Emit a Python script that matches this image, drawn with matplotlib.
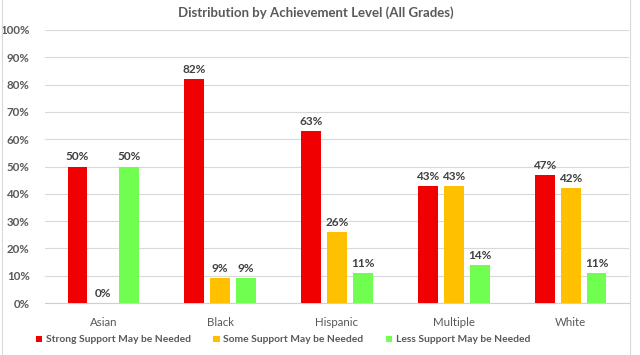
import matplotlib
matplotlib.use("Agg")
import matplotlib.pyplot as plt
import numpy as np
from matplotlib.patches import Rectangle

plt.rcParams['font.family'] = ['Lato', 'DejaVu Sans']

categories = ["Asian", "Black", "Hispanic", "Multiple", "White"]
series_names = ["Strong Support May be Needed", "Some Support May be Needed", "Less Support May be Needed"]
strong = [50, 82, 63, 43, 47]
some = [0, 9, 26, 43, 42]
less = [50, 9, 11, 14, 11]
yticks = [0, 10, 20, 30, 40, 50, 60, 70, 80, 90, 100]
colors = ["#f00000", "#ffc000", "#70ff50"]
title = "Distribution by Achievement Level (All Grades)"

fig = plt.figure(figsize=(6.4, 3.55), dpi=100)
ax = fig.add_axes([45/640, (355-303)/355, (629-45)/640, (303-30)/355])

x = np.arange(len(categories))
bw = 0.17
step = 0.222
gray = "#595959"
for i, (vals, name, c) in enumerate(zip([strong, some, less], series_names, colors)):
    pos = x + (i - 1) * step
    ax.bar(pos, vals, width=bw, color=c, label=name, zorder=3)
    for p, v in zip(pos, vals):
        ax.text(p, v + 1.5, f"{v}%", ha="center", va="bottom", fontsize=8.5,
                fontweight="bold", color="#404040", zorder=4)

ax.set_xlim(-0.5, len(categories) - 0.5)
ax.set_ylim(0, 100)
ax.set_yticks(yticks)
ax.set_yticklabels([f"{t}%" for t in yticks], fontsize=8.3, fontweight="bold", color=gray)
ax.set_xticks(x)
ax.set_xticklabels(categories, fontsize=8.3, color=gray)
ax.tick_params(axis="both", length=0)
ax.tick_params(axis="y", pad=11)
ax.tick_params(axis="x", pad=10)
ax.grid(axis="y", color="#d9d9d9", linewidth=0.8, zorder=0)
for s in ["left", "right", "top"]:
    ax.spines[s].set_visible(False)
ax.spines["bottom"].set_color("#d0d0d0")
ax.spines["bottom"].set_linewidth(0.8)

fig.text(316/640, 1 - 13/355, title, ha="center", va="center", fontsize=9.5,
         fontweight="bold", color=gray)

fig.legend(loc="center", bbox_to_anchor=(283/640, 1 - 340/355), ncol=3, frameon=False,
           labelcolor=gray, handlelength=0.6, handleheight=0.6,
           handletextpad=0.35, columnspacing=2.2,
           prop={"weight": "bold", "size": 7.4})

fig.patches.append(Rectangle((2/640, -0.01), (630-2)/640, 1.02, transform=fig.transFigure,
                             fill=False, edgecolor="#d9d9d9", linewidth=0.8))

fig.savefig("out.png", dpi=100)
